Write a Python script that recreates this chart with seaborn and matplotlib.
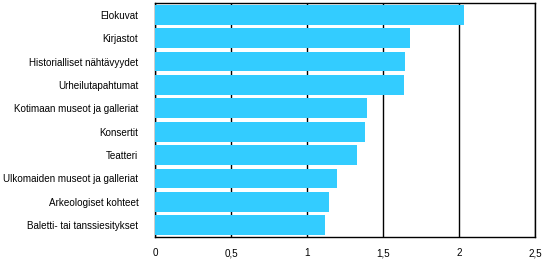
import matplotlib
matplotlib.use("Agg")
import matplotlib.pyplot as plt
import seaborn as sns
import pandas as pd
from matplotlib.ticker import FuncFormatter

categories = ["Elokuvat", "Kirjastot", "Historialliset nähtävyydet", "Urheilutapahtumat",
              "Kotimaan museot ja galleriat", "Konsertit", "Teatteri",
              "Ulkomaiden museot ja galleriat", "Arkeologiset kohteet",
              "Baletti- tai tanssiesitykset"]
values = [2.03, 1.675, 1.647, 1.641, 1.397, 1.38, 1.332, 1.20, 1.147, 1.121]
xticks = [0, 0.5, 1, 1.5, 2, 2.5]

sns.set_theme(style="white")
plt.rcParams['font.family'] = ['Liberation Sans', 'DejaVu Sans']

df = pd.DataFrame({"cat": categories, "val": values})
fig = plt.figure(figsize=(5.44, 2.59), dpi=100)
ax = fig.add_axes([155/544, 1 - 237/259, (535 - 155)/544, (237 - 3)/259])
sns.barplot(data=df, x="val", y="cat", orient="h", color="#33CCFF",
            saturation=1, width=0.85, linewidth=0, ax=ax, zorder=3)
ax.set_xlim(0, 2.5)
ax.set_ylim(9.5, -0.5)
ax.set_xticks(xticks)
ax.xaxis.set_major_formatter(FuncFormatter(lambda v, p: f"{v:g}".replace(".", ",")))
ax.grid(axis="x", color="black", linewidth=1, zorder=0)
ax.grid(axis="y", visible=False)
for s in ax.spines.values():
    s.set_visible(True)
    s.set_color("black")
    s.set_linewidth(1)
ax.set_xlabel("")
ax.set_ylabel("")
ax.tick_params(axis="both", length=0, labelsize=7.1, colors="black")
ax.tick_params(axis="y", pad=12)
ax.tick_params(axis="x", pad=8)
fig.savefig("out.png", dpi=100)
